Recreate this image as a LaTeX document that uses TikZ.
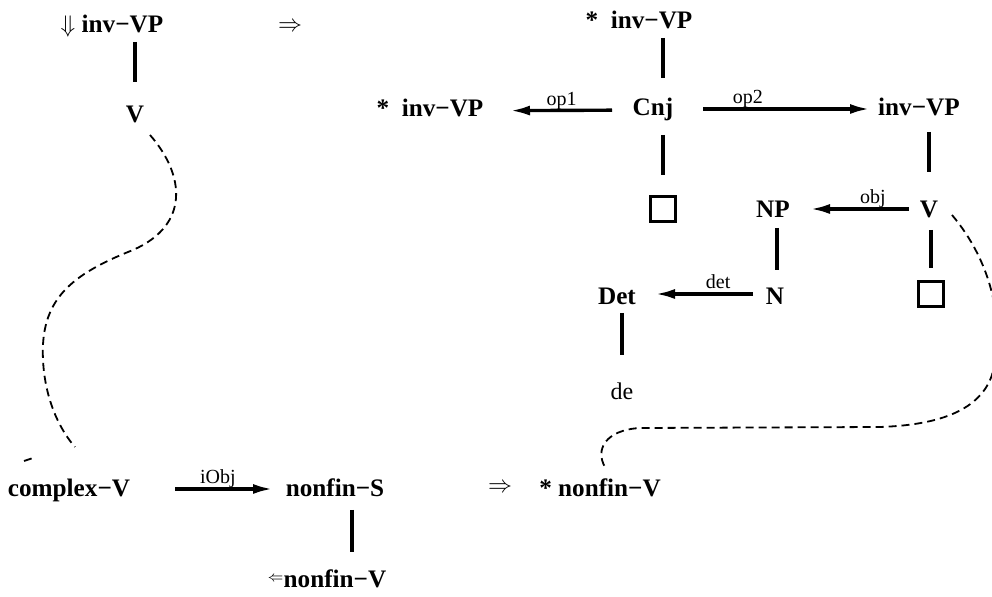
\documentclass[tikz,border=0pt]{standalone}
\usepackage{fontspec}
\setmainfont{Liberation Serif}
\usepackage{amsmath,amssymb}
\usetikzlibrary{positioning, arrows.meta, calc}

\tikzset{
  cat/.style={font=\fontsize{12.6}{14}\selectfont\bfseries, anchor=base, inner sep=2pt},
  lbl/.style={font=\fontsize{10}{12}\selectfont, anchor=base, yshift=2.5pt, inner sep=0pt},
  word/.style={font=\fontsize{12}{14}\selectfont, anchor=base, inner sep=2pt},
  hole/.style={draw, line width=1.7pt, minimum size=12.4pt, inner sep=0pt},
  link/.style={line width=1.7pt},
  dep/.style={line width=1.7pt, -{Latex[length=10pt,width=5pt]}},
  corr/.style={line width=0.9pt, dash pattern=on 4pt off 2.5pt}
}

\begin{document}
\begin{tikzpicture}[x=0.5pt, y=-0.5pt]
  \useasboundingbox (0,0) rectangle (992,597);

  % left rule
  \node[cat] (linv) at (112,33) {$\Downarrow$ inv−VP};
  \node[cat] (lv) at (135,123) {V};
  \node[font=\fontsize{12}{14}\selectfont] (impl1) at (290,27) {$\Rightarrow$};

  \draw[link, shorten <=4.5pt, shorten >=20.5pt] (linv.base -| lv.base) -- (lv.base);

  % right side: coordination
  \node[cat] (tinv) at (639,29) {*\ \ inv−VP};
  \node[cat] (cnj) at (653,116) {Cnj};
  \node[cat] (op1vp) at (430,117) {*\ \ inv−VP};
  \node[cat] (op2vp) at (919,116) {inv−VP};
  \node[hole] (box1) at (663,209) {};

  \draw[link, shorten <=4.5pt, shorten >=19pt] (tinv.base -| box1) -- (cnj.base -| box1);
  \draw[link, shorten <=9.5pt, shorten >=10pt] (cnj.base -| box1) -- (box1);
  \draw[dep, shorten <=20.5pt, shorten >=40pt] ($(cnj.base)+(0,-6)$) -- node[lbl, pos=.41] {op1} ($(op1vp.base)+(0,-6)$);
  \draw[dep, shorten <=25pt, shorten >=24.5pt] ($(cnj.base)+(0,-7)$) -- node[lbl, pos=.357] {op2} ($(op2vp.base)+(0,-7)$);

  % verb with object
  \node[cat] (rv) at (929,218) {V};
  \node[cat] (np) at (773,218) {NP};
  \node[cat] (n) at (775,305) {N};
  \node[cat] (det) at (617,305) {Det};
  \node[word] (de) at (622,400) {de};
  \node[hole] (box2) at (931,294) {};

  \draw[link, shorten <=8pt, shorten >=23pt] (op2vp.base -| rv.base) -- (rv.base);
  \draw[link, shorten <=6pt, shorten >=6pt] (rv.base -| box2) -- (box2);
  \draw[dep, shorten <=10pt, shorten >=18.5pt] ($(rv.base)+(0,-9)$) -- node[lbl, pos=.36] {obj} ($(np.base)+(0,-9)$);
  \draw[link, shorten <=5pt, shorten >=17.5pt] ($(np.base)+(4,0)$) -- ($(n.base)+(2,0)$);
  \draw[dep, shorten <=11pt, shorten >=19pt] ($(n.base)+(0,-11)$) -- node[lbl, pos=.36] {det} ($(det.base)+(0,-11)$);
  \draw[link, shorten <=4pt, shorten >=22.5pt] ($(det.base)+(5,0)$) -- (de.base);

  % bottom rule
  \node[cat] (cplx) at (69,497) {complex−V};
  \node[cat] (nfs) at (335,497) {nonfin−S};
  \node[cat] (nfv) at (327,588) {\raisebox{3pt}{\scriptsize$\Leftarrow$}nonfin−V};
  \node[font=\fontsize{12}{14}\selectfont] (impl2) at (500,488) {$\Rightarrow$};
  \node[cat] (snfv) at (600,497) {* nonfin−V};

  \draw[dep, shorten <=53pt, shorten >=31pt] ($(cplx.base)+(0,-8)$) -- node[lbl, pos=.56] {iObj} ($(nfs.base)+(0,-8)$);
  \draw[link, shorten <=6.5pt, shorten >=18pt] ($(nfs.base)+(17,0)$) -- ($(nfv.base)+(25,0)$);

  % correspondences
  \coordinate (lend) at (75,447);
  \coordinate (rend) at (605,467);
  \draw[corr] ($(lv.base)+(15,12)$) .. controls (185,175) and (190,225) .. (133,250)
    .. controls (70,275) and (40,300) .. (43,360)
    .. controls (45,400) and (60,430) .. (lend);
  \draw[corr] (24,461) -- (33,458);
  \draw[corr] ($(rv.base)+(23,-3)$) .. controls (990,260) and (1006,320) .. (992,375)
    .. controls (980,410) and (940,425) .. (880,427) -- (640,428)
    .. controls (605,430) and (595,450) .. (rend);
\end{tikzpicture}
\end{document}
